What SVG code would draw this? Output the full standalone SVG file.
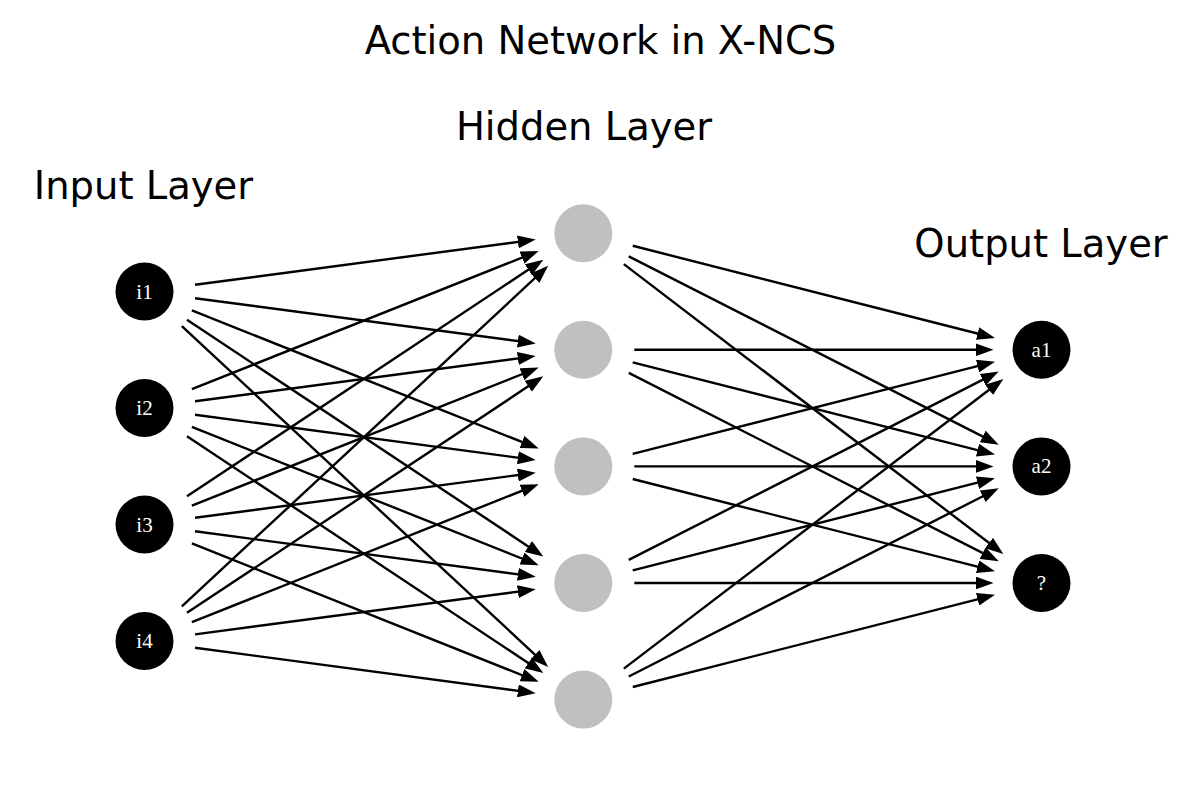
<svg xmlns="http://www.w3.org/2000/svg" width="1203" height="806" viewBox="0 0 1203 806">
<style>
.title{font-family:"DejaVu Sans",sans-serif;font-size:38.5px;fill:#000;text-anchor:middle}
.inp,.out{fill:#000}
.hid{fill:#c0c0c0}
.lbl{font-family:"Liberation Serif","Times New Roman",serif;font-size:21px;fill:#fff;text-anchor:middle}
.edge line{stroke:#000;stroke-width:2.4;fill:none;marker-end:url(#arr)}
</style>
<defs>
<marker id="arr" markerUnits="userSpaceOnUse" markerWidth="18" markerHeight="13" viewBox="0 0 18 13" refX="8" refY="6.5" orient="auto">
<path d="M0,0 L18,6.5 L0,13 z" fill="#000"/>
</marker>
</defs>
<rect width="1203" height="806" fill="#fff"/>
<text class="title" x="600.5" y="54">Action Network in X-NCS</text>
<text class="title" x="584" y="140">Hidden Layer</text>
<text class="title" x="143.5" y="199">Input Layer</text>
<text class="title" x="1041" y="257">Output Layer</text>
<g id="connectors" class="edge">
<line x1="195.06" y1="284.78" x2="525.81" y2="240.84"/>
<line x1="195.06" y1="298.22" x2="525.81" y2="342.16"/>
<line x1="191.88" y1="310.38" x2="529.42" y2="444.92"/>
<line x1="186.98" y1="319.72" x2="534.99" y2="550.91"/>
<line x1="181.85" y1="326.23" x2="540.83" y2="660.10"/>
<line x1="191.88" y1="389.13" x2="529.42" y2="254.66"/>
<line x1="195.06" y1="401.29" x2="525.80" y2="357.43"/>
<line x1="195.05" y1="414.73" x2="525.81" y2="458.75"/>
<line x1="191.87" y1="426.89" x2="529.43" y2="561.51"/>
<line x1="186.98" y1="436.23" x2="535.00" y2="667.50"/>
<line x1="186.99" y1="496.29" x2="534.98" y2="265.28"/>
<line x1="191.88" y1="505.64" x2="529.41" y2="371.25"/>
<line x1="195.06" y1="517.81" x2="525.80" y2="474.01"/>
<line x1="195.05" y1="531.24" x2="525.81" y2="575.34"/>
<line x1="191.87" y1="543.40" x2="529.43" y2="678.10"/>
<line x1="181.86" y1="606.28" x2="540.81" y2="272.68"/>
<line x1="186.99" y1="612.80" x2="534.98" y2="381.87"/>
<line x1="191.89" y1="622.14" x2="529.41" y2="487.84"/>
<line x1="195.06" y1="634.32" x2="525.80" y2="590.60"/>
<line x1="195.05" y1="647.75" x2="525.81" y2="691.92"/>
<line x1="632.73" y1="245.78" x2="985.29" y2="335.50"/>
<line x1="628.75" y1="256.33" x2="989.81" y2="440.09"/>
<line x1="623.84" y1="264.15" x2="995.40" y2="547.81"/>
<line x1="634.3" y1="349.8" x2="983.5" y2="349.8"/>
<line x1="632.73" y1="362.38" x2="985.29" y2="452.10"/>
<line x1="628.75" y1="372.93" x2="989.81" y2="556.69"/>
<line x1="632.73" y1="453.82" x2="985.29" y2="364.10"/>
<line x1="634.3" y1="466.4" x2="983.5" y2="466.4"/>
<line x1="632.73" y1="478.98" x2="985.29" y2="568.70"/>
<line x1="628.75" y1="559.87" x2="989.81" y2="376.11"/>
<line x1="632.73" y1="570.42" x2="985.29" y2="480.70"/>
<line x1="634.3" y1="583" x2="983.5" y2="583"/>
<line x1="623.84" y1="668.65" x2="995.40" y2="384.99"/>
<line x1="628.75" y1="676.47" x2="989.81" y2="492.71"/>
<line x1="632.73" y1="687.02" x2="985.29" y2="597.30"/>
</g>
<g id="i1"><circle class="inp" cx="144.5" cy="291.5" r="29"/><text class="lbl" x="144.5" y="298.5">i1</text></g>
<g id="i2"><circle class="inp" cx="144.5" cy="408" r="29"/><text class="lbl" x="144.5" y="415">i2</text></g>
<g id="i3"><circle class="inp" cx="144.5" cy="524.5" r="29"/><text class="lbl" x="144.5" y="531.5">i3</text></g>
<g id="i4"><circle class="inp" cx="144.5" cy="641" r="29"/><text class="lbl" x="144.5" y="648">i4</text></g>
<g id="h1"><circle class="hid" cx="583.3" cy="233.2" r="29"/></g>
<g id="h2"><circle class="hid" cx="583.3" cy="349.8" r="29"/></g>
<g id="h3"><circle class="hid" cx="583.3" cy="466.4" r="29"/></g>
<g id="h4"><circle class="hid" cx="583.3" cy="583" r="29"/></g>
<g id="h5"><circle class="hid" cx="583.3" cy="699.6" r="29"/></g>
<g id="a1"><circle class="out" cx="1041.5" cy="349.8" r="29"/><text class="lbl" x="1041.5" y="356.8">a1</text></g>
<g id="a2"><circle class="out" cx="1041.5" cy="466.4" r="29"/><text class="lbl" x="1041.5" y="473.4">a2</text></g>
<g id="a3"><circle class="out" cx="1041.5" cy="583" r="29"/><text class="lbl" x="1041.5" y="590">?</text></g>
</svg>
